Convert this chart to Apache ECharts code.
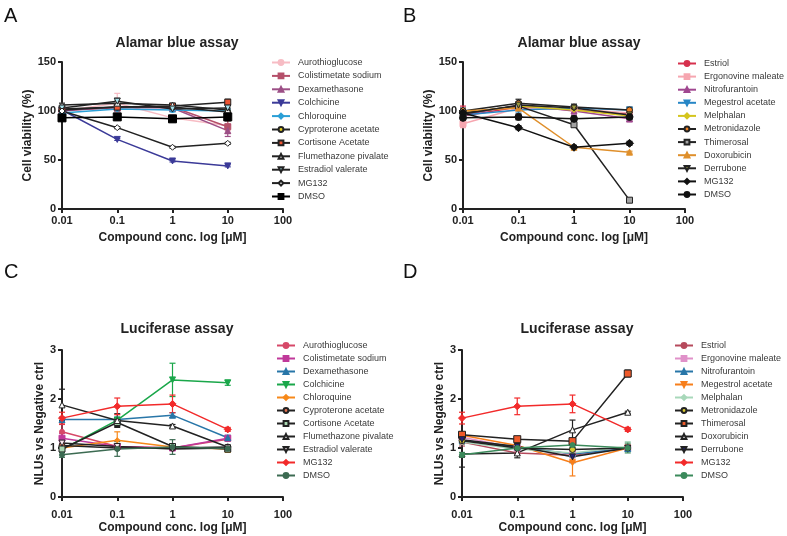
<!DOCTYPE html>
<html><head><meta charset="utf-8">
<script src="https://cdn.jsdelivr.net/npm/echarts@6/dist/echarts.min.js"></script>
<style>html,body{margin:0;padding:0;background:#fff}#c{width:787px;height:536px}</style>
</head><body><div id="c"></div>
<script>
const concentrations = [0.01, 0.1, 1, 10];
const xTickLabels = ['0.01', '0.1', '1', '10', '100'];

// Panel A
const namesA = ['Aurothioglucose','Colistimetate sodium','Dexamethasone','Colchicine','Chloroquine','Cyproterone acetate','Cortisone Acetate','Flumethazone pivalate','Estradiol valerate','MG132','DMSO'];
const valuesA = [
  [100, 108, 93, 85],
  [101, 103, 104, 84],
  [100, 104, 103, 80],
  [101, 71, 49, 44],
  [98, 102, 101, 100],
  [101, 104, 104, 99],
  [102, 104, 105, 109],
  [106, 108, 106, 101],
  [103, 110, 102, 103],
  [100, 83, 63, 67],
  [93, 94, 92, 94]
];
const errorsA = [
  [2,10,3,5],[2,3,3,7],[2,3,3,6],[1,1,1,1],[2,2,2,2],[2,2,2,2],[2,2,2,3],[2,2,2,2],[2,3,2,4],[1,1,1,1],[3,3,3,4]
];
// Panel B
const namesB = ['Estriol','Ergonovine maleate','Nitrofurantoin','Megestrol acetate','Melphalan','Metronidazole','Thimerosal','Doxorubicin','Derrubone','MG132','DMSO'];
const valuesB = [
  [95, 104, 101, 97],
  [87, 103, 102, 98],
  [96, 106, 100, 92],
  [96, 101, 103, 101],
  [98, 105, 101, 95],
  [100, 108, 104, 101],
  [98, 105, 86, 9],
  [100, 103, 63, 58],
  [97, 106, 103, 96],
  [98, 83, 63, 67],
  [93, 94, 92, 94]
];
const errorsB = [
  [10,3,3,3],[4,2,2,2],[3,2,3,3],[2,2,2,2],[2,2,2,2],[3,4,3,3],[2,3,2,1],[1,2,1,1],[2,3,3,3],[2,2,2,2],[3,3,3,3]
];
// Panel C
const namesC = ['Aurothioglucose','Colistimetate sodium','Dexamethasone','Colchicine','Chloroquine','Cyproterone acetate','Cortisone Acetate','Flumethazone pivalate','Estradiol valerate','MG132','DMSO'];
const valuesC = [
  [1.33, 1.03, 1.0, 1.18],
  [1.2, 1.03, 1.0, 1.2],
  [1.58, 1.58, 1.67, 1.21],
  [0.97, 1.57, 2.39, 2.33],
  [1.0, 1.16, 1.02, 0.98],
  [1.05, 1.0, 1.0, 1.02],
  [0.98, 1.52, 1.03, 0.98],
  [1.88, 1.56, 1.45, 1.02],
  [1.1, 1.03, 0.98, 1.0],
  [1.61, 1.85, 1.9, 1.38],
  [0.86, 0.98, 1.02, 0.99]
];
const errorsC = [
  [0.15,0.03,0.03,0.04],[0.1,0.03,0.03,0.04],[0.05,0.05,0.05,0.05],[0.05,0.05,0.34,0.05],[0.05,0.17,0.05,0.07],[0.03,0.03,0.03,0.03],[0.05,0.08,0.05,0.05],[0.32,0.14,0.03,0.03],[0.05,0.03,0.03,0.03],[0.12,0.17,0.18,0.04],[0.05,0.15,0.15,0.07]
];
// Panel D
const namesD = ['Estriol','Ergonovine maleate','Nitrofurantoin','Megestrol acetate','Melphalan','Metronidazole','Thimerosal','Doxorubicin','Derrubone','MG132','DMSO'];
const valuesD = [
  [1.12, 0.9, 0.85, 1.0],
  [1.22, 1.0, 0.88, 1.0],
  [1.16, 1.02, 0.88, 0.99],
  [1.26, 1.05, 0.7, 1.0],
  [1.12, 0.98, 0.9, 1.03],
  [1.15, 1.0, 0.97, 1.0],
  [1.27, 1.18, 1.14, 2.52],
  [0.88, 0.9, 1.37, 1.73],
  [1.17, 1.03, 0.82, 1.0],
  [1.61, 1.85, 1.9, 1.38],
  [0.86, 1.0, 1.06, 1.0]
];
const errorsD = [
  [0.08,0.05,0.05,0.03],[0.06,0.04,0.05,0.03],[0.05,0.04,0.04,0.03],[0.06,0.04,0.27,0.03],[0.05,0.04,0.05,0.1],[0.05,0.04,0.05,0.03],[0.05,0.05,0.05,0.07],[0.27,0.1,0.2,0.02],[0.08,0.15,0.12,0.03],[0.12,0.17,0.18,0.04],[0.05,0.05,0.05,0.1]
];

// Styles
const DOWN = 'path://M0,0L2,0L1,2Z';
const stylesA = [
  ['#f7bcc4','#f7bcc4','circle',4],['#b5506a','#b5506a','rect',6],['#9c4f86','#9c4f86','triangle',6],['#3b3a98','#3b3a98',DOWN,6],['#2a9fd6','#2a9fd6','diamond',6],
  ['#222','#e5cf22','circle',6],['#222','#ee5533','rect',6],['#222','#ffffff','triangle',6],['#222','#a6e0ea',DOWN,6],['#222','#ffffff','diamond',6],['#000','#000','rect',8]
];
const stylesB = [
  ['#d6304d','#d6304d','circle',5],['#f6a6b0','#f6a6b0','rect',6],['#a04790','#a04790','triangle',6],['#2686c6','#2686c6',DOWN,6],['#d4c51f','#d4c51f','diamond',5],
  ['#222','#ef8123','circle',6],['#222','#a3a3a3','rect',6],['#df8f2b','#df8f2b','triangle',6],['#222','#9e9c3c',DOWN,6],['#111','#111','diamond',8],['#111','#111','circle',7]
];
const stylesC = [
  ['#d64868','#d64868','circle',5],['#c0399a','#c0399a','rect',6],['#2876a8','#2876a8','triangle',6],['#1aa74a','#1aa74a',DOWN,6],['#f7891a','#f7891a','diamond',5],
  ['#222','#e27150','circle',6],['#222','#a9d8b1','rect',6],['#222','#ffffff','triangle',6],['#222','#fbe8ee',DOWN,6],['#f22a2a','#f22a2a','diamond',7],['#3c6b52','#3c6b52','circle',5]
];
const stylesD = [
  ['#b64a5c','#b64a5c','circle',5],['#e091c9','#e091c9','rect',6],['#2876a8','#2876a8','triangle',6],['#f77f1b','#f77f1b',DOWN,6],['#a8d8ba','#a8d8ba','diamond',5],
  ['#222','#d8ca33','circle',6],['#222','#ef5a2a','rect',7],['#222','#ffffff','triangle',6],['#222','#22227e',DOWN,6],['#f22a2a','#f22a2a','diamond',7],['#3b8a5b','#3b8a5b','circle',5]
];

const FONT = 'Liberation Sans, Arial, sans-serif';
const panels = [
  {names:namesA, values:valuesA, errors:errorsA, styles:stylesA, grid:{left:62, top:62, width:221, height:147}, ymax:150, yint:50, yGap:28, labelMargin:6, legend:{left:271, top:56, gap:0.4}, yName:'Cell viability (%)', title:[172,42], letter:['A',4,6]},
  {names:namesB, values:valuesB, errors:errorsB, styles:stylesB, grid:{left:463, top:62, width:222, height:147}, ymax:150, yint:50, yGap:26, labelMargin:6, legend:{left:677, top:57, gap:0.1}, yName:'Cell viability (%)', title:[574,42], letter:['B',403,6]},
  {names:namesC, values:valuesC, errors:errorsC, styles:stylesC, grid:{left:62, top:350, width:221, height:147}, ymax:3, yint:1, yGap:14, labelMargin:12, legend:{left:276, top:339, gap:0}, yName:'NLUs vs Negative ctrl', title:[172,328], letter:['C',4,262]},
  {names:namesD, values:valuesD, errors:errorsD, styles:stylesD, grid:{left:462, top:350, width:221, height:147}, ymax:3, yint:1, yGap:14, labelMargin:12, legend:{left:674, top:339, gap:0}, yName:'NLUs vs Negative ctrl', title:[572,328], letter:['D',403,262]}
];

const grids = [], xAxes = [], yAxes = [], series = [], legends = [], titles = [], graphics = [];
const axisLine = {show:true, lineStyle:{color:'#222', width:2}};
panels.forEach((p, i) => {
  const suffix = '\u200B'.repeat(i); // keeps legend entries of each panel tied to their own series
  const sNames = p.names.map(n => n + suffix);
  grids.push(p.grid);
  xAxes.push({
    type:'log', logBase:10, min:0.01, max:100, gridIndex:i,
    name:'Compound conc. log [μM]', nameLocation:'middle', nameGap: i < 2 ? 23 : 25,
    nameTextStyle:{fontFamily:FONT, fontWeight:'bold', fontSize:12, color:'#222'},
    axisLine:axisLine, axisTick:{show:true, length:4, lineStyle:{color:'#222', width:2}},
    axisLabel:{fontFamily:FONT, fontWeight:'bold', fontSize:11, color:'#222', margin:p.labelMargin,
      formatter: v => { const idx = Math.round(Math.log10(v)) + 2; return xTickLabels[idx] || ''; }},
    splitLine:{show:false}, minorTick:{show:false}
  });
  yAxes.push({
    type:'value', min:0, max:p.ymax, interval:p.yint, gridIndex:i,
    name:p.yName, nameLocation:'middle', nameGap:p.yGap, nameRotate:90,
    nameTextStyle:{fontFamily:FONT, fontWeight:'bold', fontSize:12, color:'#222'},
    axisLine:axisLine, axisTick:{show:true, length:4, lineStyle:{color:'#222', width:2}},
    axisLabel:{fontFamily:FONT, fontWeight:'bold', fontSize:11, color:'#222', margin:6},
    splitLine:{show:false}
  });
  p.names.forEach((n, k) => {
    const st = p.styles[k];
    series.push({
      type:'custom', name:n + ' error' + suffix, xAxisIndex:i, yAxisIndex:i, silent:true, z:1,
      data: concentrations.map((c, j) => [c, p.values[k][j] - p.errors[k][j], p.values[k][j] + p.errors[k][j]]),
      renderItem: (params, api) => {
        const x = api.value(0);
        const a = api.coord([x, api.value(1)]);
        const b = api.coord([x, api.value(2)]);
        const s = {stroke: st[0], lineWidth: 1.2};
        return {type:'group', children:[
          {type:'line', shape:{x1:a[0], y1:a[1], x2:b[0], y2:b[1]}, style:s},
          {type:'line', shape:{x1:a[0]-3, y1:a[1], x2:a[0]+3, y2:a[1]}, style:s},
          {type:'line', shape:{x1:b[0]-3, y1:b[1], x2:b[0]+3, y2:b[1]}, style:s}
        ]};
      }
    });
    series.push({
      type:'line', name:sNames[k], xAxisIndex:i, yAxisIndex:i, z:2,
      data: concentrations.map((c, j) => [c, p.values[k][j]]),
      symbol: st[2], symbolSize: st[3], showAllSymbol:true,
      lineStyle:{color:st[0], width:1.5},
      itemStyle:{color:st[1], borderColor:st[0], borderWidth:1},
      emphasis:{disabled:true}
    });
  });
  legends.push({
    data:sNames, orient:'vertical', left:p.legend.left, top:p.legend.top,
    itemWidth:18, itemHeight:6, itemGap:p.legend.gap, selectedMode:false,
    textStyle:{fontFamily:FONT, fontSize:9, color:'#3a3a3a', lineHeight:13, padding:[0,0,0,3]},
    padding:0
  });
  titles.push({text:'Alamar blue assay', left:p.title[0], top:p.title[1] - 3.5, textAlign:'center', textVerticalAlign:'middle',
    textStyle:{fontFamily:FONT, fontWeight:'bold', fontSize:14, color:'#222'}});
  graphics.push({type:'text', left:p.letter[1], top:p.letter[2], style:{text:p.letter[0], font:'20px ' + FONT, fill:'#111'}});
});
titles[2].text = 'Luciferase assay';
titles[3].text = 'Luciferase assay';

const chart = echarts.init(document.getElementById('c'), null, {renderer:'canvas'});
chart.setOption({
  animation:false, backgroundColor:'#fff',
  title:titles, grid:grids, xAxis:xAxes, yAxis:yAxes, legend:legends, series:series, graphic:graphics
});
</script></body></html>
